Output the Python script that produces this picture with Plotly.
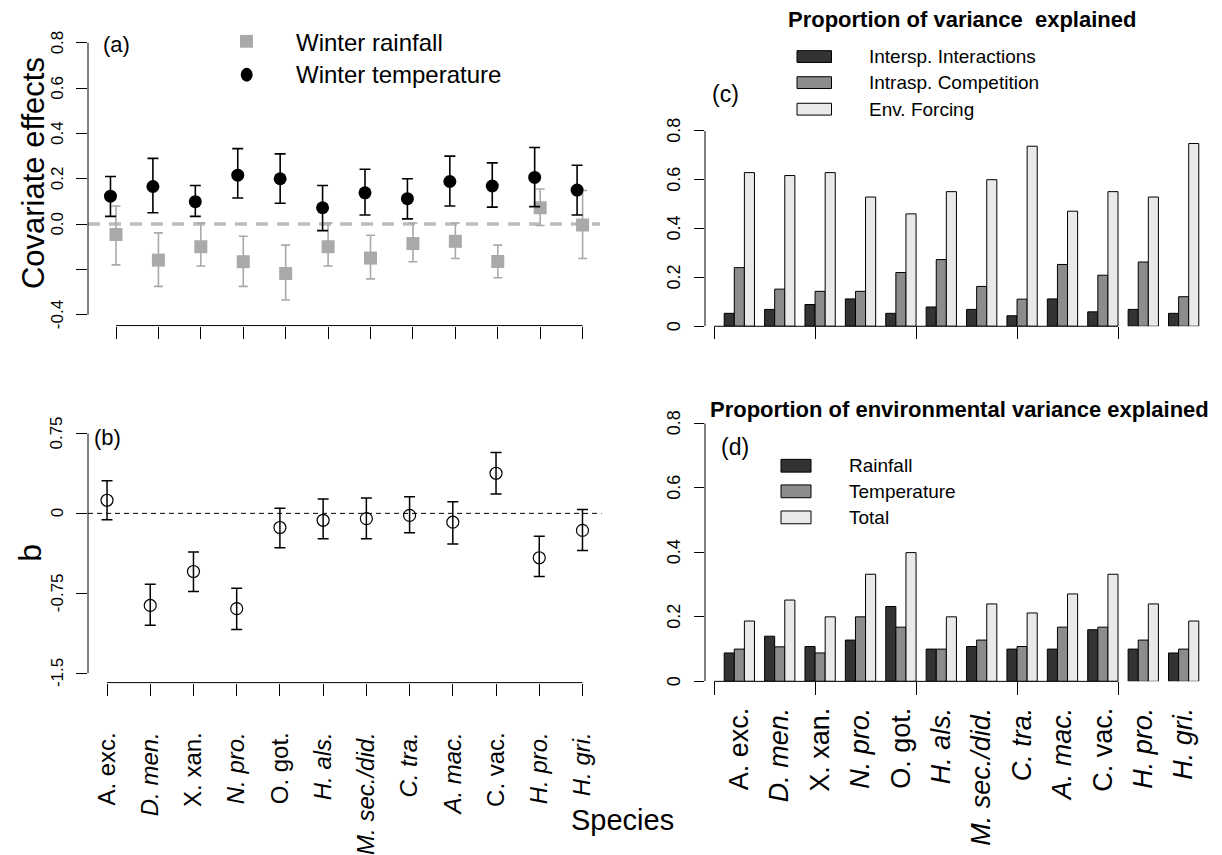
import plotly.graph_objects as go

W, H = 1222, 855
FONT = "Liberation Sans, Arial, sans-serif"

# ---------------- data ----------------
species = ["A. exc.", "D. men.", "X. xan.", "N. pro.", "O. got.", "H. als.",
           "M. sec./did.", "C. tra.", "A. mac.", "C. vac.", "H. pro.", "H. gri."]
italic = [False, True, False, True, False, True, True, True, True, False, True, True]

# panel (a): covariate effects
temp_eff = [0.123, 0.166, 0.099, 0.216, 0.200, 0.072, 0.138, 0.112, 0.188, 0.168, 0.206, 0.150]
temp_hi = [0.210, 0.290, 0.170, 0.333, 0.310, 0.170, 0.242, 0.200, 0.300, 0.270, 0.338, 0.260]
temp_lo = [0.034, 0.050, 0.034, 0.115, 0.092, -0.029, 0.040, 0.023, 0.080, 0.075, 0.077, 0.040]

rain_eff = [-0.046, -0.159, -0.100, -0.166, -0.218, -0.100, -0.150, -0.086, -0.076, -0.165, 0.072, -0.004]
rain_hi = [0.080, -0.039, 0.005, -0.054, -0.093, 0.005, -0.049, 0.005, 0.005, -0.093, 0.155, 0.148]
rain_lo = [-0.180, -0.275, -0.185, -0.275, -0.335, -0.185, -0.242, -0.166, -0.152, -0.237, -0.006, -0.152]

# panel (b): b estimates
b_est = [0.123, -0.865, -0.546, -0.895, -0.133, -0.065, -0.049, -0.019, -0.083, 0.377, -0.417, -0.160]
b_hi = [0.306, -0.667, -0.364, -0.704, 0.049, 0.136, 0.145, 0.157, 0.108, 0.571, -0.216, 0.037]
b_lo = [-0.059, -1.051, -0.735, -1.090, -0.324, -0.238, -0.238, -0.182, -0.287, 0.182, -0.593, -0.349]

# panel (c): proportion of variance explained
var_series = ["Intersp. Interactions", "Intrasp. Competition", "Env. Forcing"]
interactions = [0.053, 0.069, 0.089, 0.112, 0.053, 0.079, 0.069, 0.043, 0.112, 0.059, 0.069, 0.053]
intraspecific = [0.240, 0.152, 0.143, 0.143, 0.220, 0.273, 0.163, 0.111, 0.253, 0.209, 0.263, 0.121]
env_forcing = [0.629, 0.617, 0.629, 0.529, 0.460, 0.551, 0.600, 0.737, 0.471, 0.551, 0.529, 0.748]

# panel (d): proportion of environmental variance explained
env_series = ["Rainfall", "Temperature", "Total"]
rain_var = [0.088, 0.140, 0.108, 0.128, 0.232, 0.100, 0.108, 0.100, 0.100, 0.160, 0.100, 0.088]
temp_var = [0.100, 0.107, 0.088, 0.200, 0.168, 0.100, 0.128, 0.108, 0.168, 0.168, 0.128, 0.100]
total_var = [0.187, 0.252, 0.200, 0.332, 0.399, 0.200, 0.240, 0.212, 0.271, 0.332, 0.240, 0.187]

# tick labels
a_yticks = [-0.4, -0.2, 0.0, 0.2, 0.4, 0.6, 0.8]
a_ytext = ["-0.4", "", "0.0", "0.2", "0.4", "0.6", "0.8"]
b_yticks = [-1.5, -0.75, 0, 0.75]
b_ytext = ["-1.5", "-0.75", "0", "0.75"]
p_yticks = [0, 0.2, 0.4, 0.6, 0.8]
p_ytext = ["0", "0.2", "0.4", "0.6", "0.8"]
bar_axis_ticks = [0, 10, 20, 30, 40]

# ---------------- styling ----------------
BAR_COLORS = ["#333333", "#8c8c8c", "#e9e9e9"]
RAIN_GREY = "#a9a9a9"
DASH_GREY = "#bdbdbd"


def px(x):
    return x / W


def py(y):
    return 1 - y / H


n = len(species)
pos = list(range(1, n + 1))
temp_x = [p - 0.13 for p in pos]
labels = [f"<i>{s}</i>" if it else s for s, it in zip(species, italic)]

fig = go.Figure()

# panel (a)
fig.add_trace(go.Scatter(
    x=pos, y=rain_eff, mode="markers", xaxis="x", yaxis="y",
    marker=dict(symbol="square", size=13, color=RAIN_GREY),
    error_y=dict(type="data", symmetric=False,
                 array=[h - v for h, v in zip(rain_hi, rain_eff)],
                 arrayminus=[v - l for l, v in zip(rain_lo, rain_eff)],
                 color=RAIN_GREY, thickness=1.6, width=4.5),
    name="Winter rainfall", showlegend=False, cliponaxis=False))
fig.add_trace(go.Scatter(
    x=temp_x, y=temp_eff, mode="markers", xaxis="x", yaxis="y",
    marker=dict(symbol="circle", size=13, color="black"),
    error_y=dict(type="data", symmetric=False,
                 array=[h - v for h, v in zip(temp_hi, temp_eff)],
                 arrayminus=[v - l for l, v in zip(temp_lo, temp_eff)],
                 color="black", thickness=1.6, width=5.5),
    name="Winter temperature", showlegend=False, cliponaxis=False))

# panel (b)
fig.add_trace(go.Scatter(
    x=pos, y=b_est, mode="markers", xaxis="x2", yaxis="y2",
    marker=dict(symbol="circle-open", size=12, color="black", line=dict(width=1.2)),
    error_y=dict(type="data", symmetric=False,
                 array=[h - v for h, v in zip(b_hi, b_est)],
                 arrayminus=[v - l for l, v in zip(b_lo, b_est)],
                 color="black", thickness=1.5, width=5.5),
    showlegend=False, cliponaxis=False))

# bar positions (R barplot beside=TRUE, space=c(0,1))
group_centers = [4 * i + 2.5 for i in range(n)]


def bar_x(k):
    return [4 * i + 1.5 + k for i in range(n)]


for k, (vals, name) in enumerate(zip([interactions, intraspecific, env_forcing], var_series)):
    fig.add_trace(go.Bar(x=bar_x(k), y=vals, width=1, xaxis="x3", yaxis="y3",
                         marker=dict(color=BAR_COLORS[k], line=dict(color="black", width=1)),
                         name=name, showlegend=False))
for k, (vals, name) in enumerate(zip([rain_var, temp_var, total_var], env_series)):
    fig.add_trace(go.Bar(x=bar_x(k), y=vals, width=1, xaxis="x4", yaxis="y4",
                         marker=dict(color=BAR_COLORS[k], line=dict(color="black", width=1)),
                         name=name, showlegend=False))
# invisible carrier for the species label axis of panel (d)
fig.add_trace(go.Scatter(x=group_centers, y=[0] * n, xaxis="x5", yaxis="y4", mode="markers",
                         marker=dict(opacity=0), hoverinfo="skip", showlegend=False))

common = dict(showgrid=False, zeroline=False, showline=False, ticks="outside",
              tickcolor="black", tickwidth=1)

fig.update_layout(
    width=W, height=H, margin=dict(l=0, r=0, t=0, b=0),
    paper_bgcolor="white", plot_bgcolor="white",
    font=dict(family=FONT, color="black"),
    barmode="overlay",
    xaxis=dict(domain=[px(88), px(600)], range=[0.34, 12.41], anchor="y",
               tickvals=pos, showticklabels=False, ticklen=12, **common),
    yaxis=dict(domain=[py(331), py(32.5)], range=[-0.448, 0.848], anchor="x",
               tickvals=a_yticks, showticklabels=False, ticklen=11, **common),
    xaxis2=dict(domain=[px(88), px(601.5)], range=[0.56, 12.44], anchor="y2",
                tickvals=pos, ticktext=labels, tickangle=-90, ticklen=12,
                tickfont=dict(family=FONT, size=24, color="black"),
                ticklabelstandoff=27, **common),
    yaxis2=dict(domain=[py(694), py(431)], range=[-1.59, 0.84], anchor="x2",
                tickvals=b_yticks, showticklabels=False, ticklen=11, **common),
    xaxis3=dict(domain=[px(705), px(1218)], range=[-0.9, 49.9], anchor="y3",
                tickvals=bar_axis_ticks, showticklabels=False, ticklen=12, **common),
    yaxis3=dict(domain=[py(331.7), py(133)], range=[0, 0.8], anchor="x3",
                tickvals=p_yticks, showticklabels=False, ticklen=10, **common),
    xaxis4=dict(domain=[px(705), px(1218)], range=[-0.9, 49.9], anchor="y4",
                tickvals=bar_axis_ticks, showticklabels=False, ticklen=13, **common),
    yaxis4=dict(domain=[py(692.7), py(430.3)], range=[0, 0.8], anchor="x4",
                tickvals=p_yticks, showticklabels=False, ticklen=10, **common),
    xaxis5=dict(overlaying="x4", anchor="y4", side="bottom", range=[-0.9, 49.9],
                tickvals=group_centers, ticktext=labels, tickangle=-90, ticks="",
                showgrid=False, zeroline=False, showline=False,
                tickfont=dict(family=FONT, size=27, color="black"),
                ticklabelstandoff=20),
)

shapes = []
# axis lines (R style: only between extreme ticks)
shapes += [
    dict(type="line", xref="x domain", yref="y", x0=0, x1=0, y0=min(a_yticks), y1=max(a_yticks)),
    dict(type="line", xref="x", yref="y domain", x0=pos[0], x1=pos[-1], y0=0, y1=0),
    dict(type="line", xref="x2 domain", yref="y2", x0=0, x1=0, y0=min(b_yticks), y1=max(b_yticks)),
    dict(type="line", xref="x2", yref="y2 domain", x0=pos[0], x1=pos[-1], y0=0, y1=0),
    dict(type="line", xref="x3 domain", yref="y3", x0=0, x1=0, y0=min(p_yticks), y1=max(p_yticks)),
    dict(type="line", xref="x3", yref="y3 domain", x0=bar_axis_ticks[0], x1=bar_axis_ticks[-1], y0=0, y1=0),
    dict(type="line", xref="x4 domain", yref="y4", x0=0, x1=0, y0=min(p_yticks), y1=max(p_yticks)),
    dict(type="line", xref="x4", yref="y4 domain", x0=bar_axis_ticks[0], x1=bar_axis_ticks[-1], y0=0, y1=0),
]
for s in shapes:
    s["line"] = dict(color="black", width=1)
# reference lines at zero
shapes.append(dict(type="line", xref="x domain", yref="y", x0=0, x1=1, y0=0, y1=0, layer="below",
                   line=dict(color=DASH_GREY, width=3.5, dash="12px,9px")))
shapes.append(dict(type="line", xref="x2 domain", yref="y2", x0=0, x1=1, y0=0, y1=0, layer="below",
                   line=dict(color="black", width=1, dash="5px,4px")))

annotations = []


def text(x, y, s, size, anchor="center", bold=False, angle=0, yanchor="middle"):
    annotations.append(dict(
        x=px(x), y=py(y), xref="paper", yref="paper", text=f"<b>{s}</b>" if bold else s,
        showarrow=False, xanchor=anchor, yanchor=yanchor, textangle=angle,
        font=dict(family=FONT, size=size, color="black")))


def ytick_labels(yref, xpix, vals, texts, size):
    for v, t in zip(vals, texts):
        if not t:
            continue
        annotations.append(dict(
            x=px(xpix), y=v, xref="paper", yref=yref, text=t, showarrow=False,
            xanchor="center", yanchor="middle", textangle=-90,
            font=dict(family=FONT, size=size, color="black")))


ytick_labels("y", 57.5, a_yticks, a_ytext, 17)
ytick_labels("y2", 57, b_yticks, b_ytext, 17)
ytick_labels("y3", 674, p_yticks, p_ytext, 18)
ytick_labels("y4", 674, p_yticks, p_ytext, 18)

# legend (a)
shapes.append(dict(type="rect", xref="paper", yref="paper", x0=px(240), x1=px(253),
                   y0=py(48.5), y1=py(35.5), fillcolor=RAIN_GREY, line=dict(width=0)))
shapes.append(dict(type="circle", xref="paper", yref="paper", x0=px(240.7), x1=px(252.7),
                   y0=py(83), y1=py(69), fillcolor="black", line=dict(width=0)))
text(294, 43, "Winter rainfall", 24, anchor="left")
text(294, 76, "Winter temperature", 24, anchor="left")

# legend (c)
for k, (name, yc) in enumerate(zip(var_series, [57.5, 84, 111])):
    shapes.append(dict(type="rect", xref="paper", yref="paper", x0=px(797), x1=px(831.5),
                       y0=py(yc + 6), y1=py(yc - 6), fillcolor=BAR_COLORS[k],
                       line=dict(color="black", width=1)))
    text(867, yc, name, 19, anchor="left")

# legend (d)
for k, (name, yc) in enumerate(zip(env_series, [473.5, 499.5, 526])):
    shapes.append(dict(type="rect", xref="paper", yref="paper", x0=px(781), x1=px(811),
                       y0=py(yc + 6.5), y1=py(yc - 6.5), fillcolor=BAR_COLORS[k],
                       line=dict(color="black", width=1)))
    text(847, yc, name, 19, anchor="left")

# panel letters
text(116, 45, "(a)", 22)
text(107, 445, "(b)", 22)
text(725, 96, "(c)", 23)
text(735, 454, "(d)", 23)

# titles
text(961.5, 20, "Proportion of variance\u00a0 explained", 22, bold=True)
text(960, 416, "Proportion of environmental variance explained", 22, bold=True)

# axis titles
text(33, 176, "Covariate effects", 31, angle=-90)
text(30, 562, "b", 32, angle=-90)
text(622, 834, "Species", 29)

fig.update_layout(shapes=shapes, annotations=annotations)

fig.write_html("out.html")
